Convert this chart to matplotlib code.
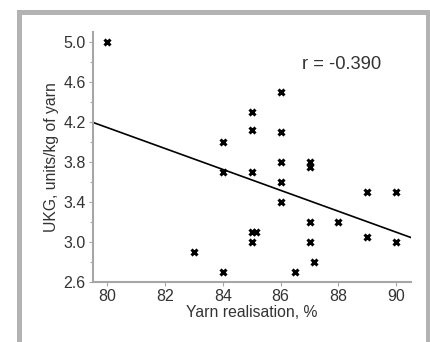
import matplotlib
matplotlib.use("Agg")
import matplotlib.pyplot as plt
from matplotlib.patches import Rectangle

plt.rcParams["font.family"] = ["Liberation Sans", "DejaVu Sans"]

# yarn realisation (%) vs UKG (units/kg of yarn)
realisation = [80, 83, 84, 84, 84, 85, 85, 85, 85, 85.15, 85,
               86, 86, 86, 86, 86, 86.5, 87, 87, 87, 87, 87.15,
               88, 89, 89, 90, 90]
ukg = [5.0, 2.9, 4.0, 3.7, 2.7, 4.3, 4.12, 3.7, 3.1, 3.1, 3.0,
       4.5, 4.1, 3.8, 3.6, 3.4, 2.7, 3.8, 3.75, 3.2, 3.0, 2.8,
       3.2, 3.5, 3.05, 3.5, 3.0]
fit_x = [79.5, 90.5]
fit_y = [4.195, 3.045]
r_label = "r = -0.390"
x_ticks = [80, 82, 84, 86, 88, 90]
y_ticks = [2.6, 3.0, 3.4, 3.8, 4.2, 4.6, 5.0]
y_minor = [2.8, 3.2, 3.6, 4.0, 4.4, 4.8]

GREY = "#a6a6a6"
TXT = "#333333"

fig = plt.figure(figsize=(4.31, 3.42), dpi=100)
fig.patch.set_facecolor("white")
W, H = 431, 342
# grey frame round the panel (left, top, right; open at bottom)
for x0, y0, w, h in [(17, 0, 5, 332), (17, 327, 414, 5), (426, 0, 5, 332)]:
    fig.add_artist(Rectangle((x0 / W, y0 / H), w / W, h / H, transform=fig.transFigure,
                             facecolor="#b3b3b3", edgecolor="none"))

ax = fig.add_axes([92.7 / W, 60 / H, 318 / W, 250.3 / H])
ax.plot(fit_x, fit_y, color="black", lw=1.2)
ax.plot(realisation, ukg, ls="none", marker="x", ms=4.5, mew=2.2, color="black")

ax.set_xlim(79.5, 90.5)
ax.set_ylim(2.6, 5.1)
ax.set_xticks(x_ticks)
ax.set_yticks(y_ticks, [f"{v:.1f}" for v in y_ticks])
ax.set_yticks(y_minor, minor=True)

for s in ("top", "right"):
    ax.spines[s].set_visible(False)
for s in ("left", "bottom"):
    ax.spines[s].set_color(GREY)
    ax.spines[s].set_linewidth(1.5)
ax.tick_params(axis="both", which="both", colors=GREY, labelcolor=TXT, labelsize=11.5,
               length=3, width=0.8, pad=2)
ax.tick_params(axis="y", which="minor", length=2)

ax.set_xlabel("Yarn realisation, %", fontsize=11.3, color=TXT, labelpad=1)
ax.set_ylabel("UKG, units/kg of yarn", fontsize=11.3, color=TXT, labelpad=3)
ax.text(0.657, 0.87, r_label, transform=ax.transAxes, fontsize=13.2, color=TXT,
        ha="left", va="center")

fig.savefig("out.png", dpi=100)
